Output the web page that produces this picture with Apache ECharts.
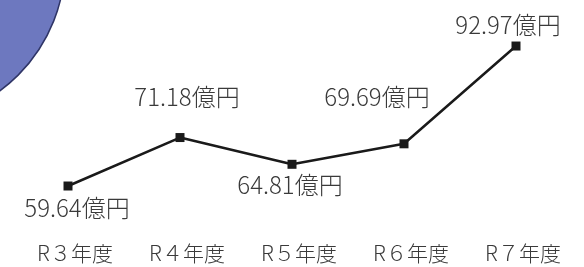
<!DOCTYPE html>
<html><head><meta charset="utf-8">
<script src="https://cdn.jsdelivr.net/npm/echarts@6/dist/echarts.min.js"></script>
<style>html,body{margin:0;padding:0;background:#fff}#c{width:584px;height:267px}</style>
</head><body><div id="c"></div>
<script>
const categories = ['R３年度', 'R４年度', 'R５年度', 'R６年度', 'R７年度'];
const values = [59.64, 71.18, 64.81, 69.69, 92.97];
const unit = '億円';

const labelOffsets = [[9, 22], [7, -41], [-2, 21], [-27, -47], [-8, -21]];
const font = '"Noto Sans CJK JP", "Noto Sans", sans-serif';

const chart = echarts.init(document.getElementById('c'));
chart.setOption({
  animation: false,
  grid: { left: 12, right: 12, top: 16.5, bottom: 40.5 },
  graphic: [{
    type: 'circle', shape: { cx: -95, cy: -38, r: 160 },
    style: { fill: '#6d78bf', stroke: '#2f3566', lineWidth: 1.5 }, z: -1
  }],
  xAxis: {
    type: 'category', data: categories, boundaryGap: true,
    axisLine: { show: false }, axisTick: { show: false },
    axisLabel: { color: '#3a3a3a', fontSize: 21, fontFamily: font, margin: 16, padding: [0, 0, 0, 14], fontWeight: 300 }
  },
  yAxis: { type: 'value', min: 50, max: 100, show: false, splitLine: { show: false } },
  series: [{
    type: 'line', data: values.map((v, i) => ({
      value: v,
      label: { offset: labelOffsets[i] }
    })),
    symbol: 'rect', symbolSize: 9,
    lineStyle: { color: '#1a1a1a', width: 2.5 },
    itemStyle: { color: '#1a1a1a' },
    label: {
      show: true, position: 'inside', color: '#3a3a3a', fontSize: 24, fontFamily: font, fontWeight: 300,
      formatter: p => p.value + unit
    }
  }]
});
</script></body></html>
